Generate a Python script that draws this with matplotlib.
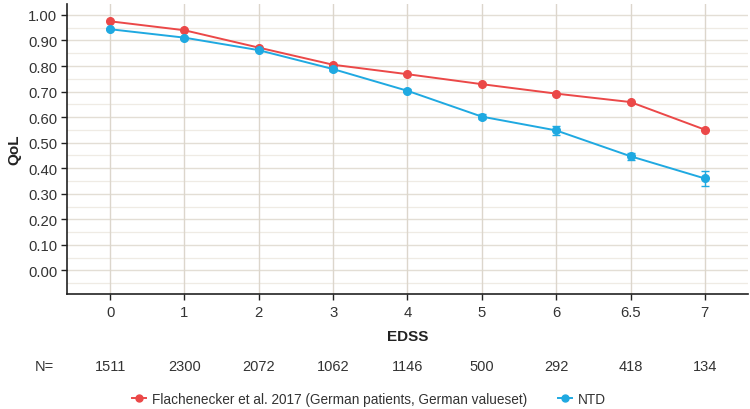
import matplotlib
matplotlib.use("Agg")
import matplotlib.pyplot as plt
import numpy as np

plt.rcParams['font.family'] = ['Liberation Sans', 'DejaVu Sans']

edss = ["0", "1", "2", "3", "4", "5", "6", "6.5", "7"]
n_values = ["1511", "2300", "2072", "1062", "1146", "500", "292", "418", "134"]
flach = [0.975, 0.940, 0.872, 0.805, 0.768, 0.729, 0.692, 0.659, 0.551]
ntd = [0.944, 0.911, 0.862, 0.788, 0.703, 0.602, 0.548, 0.447, 0.360]
ntd_err = [0.004, 0.004, 0.004, 0.006, 0.006, 0.011, 0.017, 0.014, 0.029]

red = "#EB4848"
blue = "#1FA9E1"

fig = plt.figure(figsize=(7.5, 4.1), dpi=100)
ax = fig.add_axes([0.0893, 0.2805, 0.9080, 0.7075])
x = np.arange(len(edss))

ax.set_xlim(-0.58, 8.58)
ax.set_ylim(-0.092, 1.043)

# grid
for yv in np.arange(-0.05, 1.05, 0.1):
    ax.axhline(yv, color="#EFEBE4", lw=0.9, zorder=0)
for yv in np.arange(0, 1.01, 0.1):
    ax.axhline(yv, color="#E3DED5", lw=1.0, zorder=0)
for xv in x:
    ax.axvline(xv, color="#DCD6CC", lw=1.0, zorder=0)

ax.plot(x, flach, color=red, lw=1.4, marker="o", ms=5.5, zorder=3)
ax.errorbar(x, ntd, yerr=ntd_err, color=blue, lw=1.4, marker="o", ms=5.5,
            capsize=3, elinewidth=1.0, capthick=1.0, zorder=4)

ax.set_xticks(x)
ax.set_xticklabels(edss)
ax.set_yticks(np.arange(0, 1.01, 0.1))
ax.set_yticklabels([f"{v:.2f}" for v in np.arange(0, 1.01, 0.1)])
ax.tick_params(axis="both", labelsize=10.7, colors="#222222", length=4, width=1, labelcolor="#333333")
ax.tick_params(axis="x", pad=4)
ax.tick_params(axis="y", pad=3)

for s in ["top", "right"]:
    ax.spines[s].set_visible(False)
for s in ["left", "bottom"]:
    ax.spines[s].set_linewidth(1.2)
    ax.spines[s].set_color("#222222")

ax.set_xlabel("EDSS", fontsize=11, fontweight="bold", labelpad=7, color="#222222")
ax.set_ylabel("QoL", fontsize=11, fontweight="bold", labelpad=5, color="#222222")

# N row
ny = 1 - 367 / 410
fig.text(44 / 750, ny, "N=", ha="center", va="center", fontsize=10.5, color="#333333")
for xi, nv in zip(x, n_values):
    xd = ax.transData.transform((xi, 0))[0]
    xf = fig.transFigure.inverted().transform((xd, 0))[0]
    fig.text(xf, ny, nv, ha="center", va="center", fontsize=10.5, color="#333333")

# legend
from matplotlib.lines import Line2D
h1 = Line2D([], [], color=red, lw=1.4, marker="o", ms=5)
h2 = Line2D([], [], color=blue, lw=1.4, marker="o", ms=5)
leg = fig.legend([h1, h2], ["Flachenecker et al. 2017 (German patients, German valueset)", "NTD"],
                 loc="center", bbox_to_anchor=(0.492, 1 - 400 / 410), ncol=2, frameon=False,
                 fontsize=9.8, handlelength=1.0, columnspacing=2.3, handletextpad=0.45)
for t in leg.get_texts():
    t.set_color("#333333")

fig.savefig("out.png", dpi=100)
